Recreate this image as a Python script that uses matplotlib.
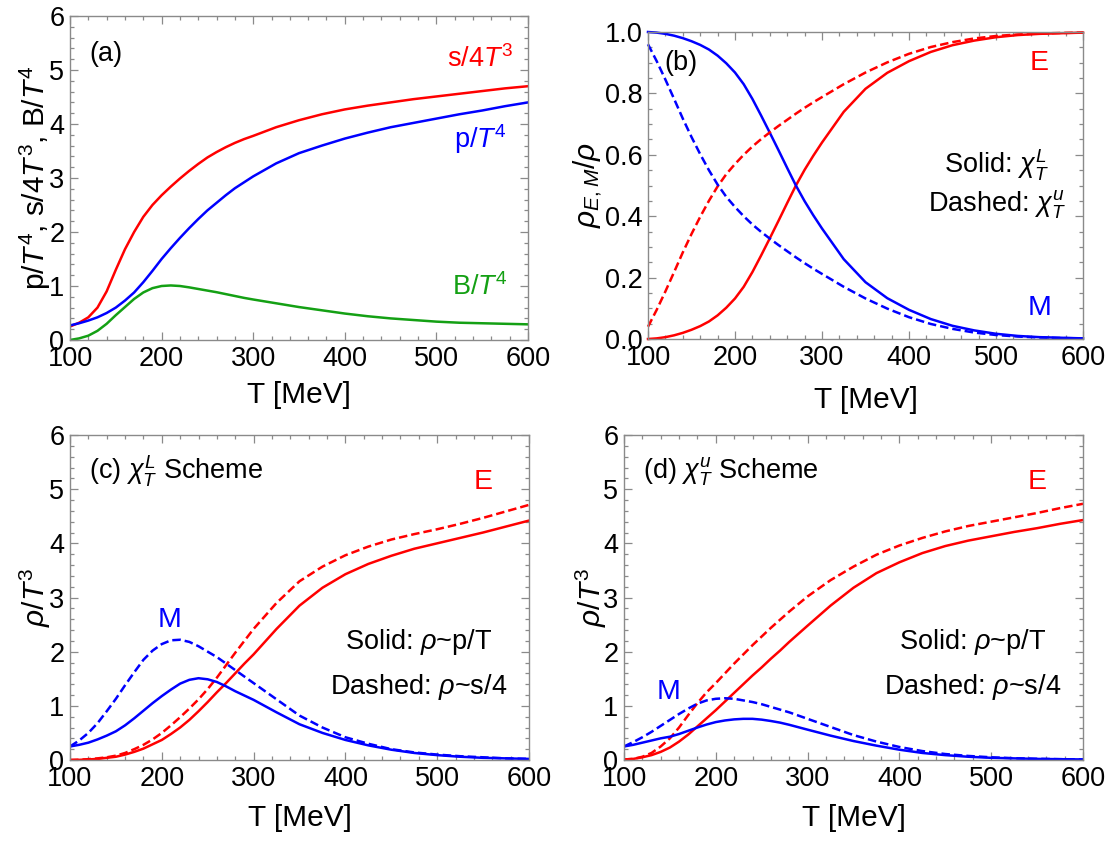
import matplotlib
matplotlib.use("Agg")
import matplotlib.pyplot as plt
from matplotlib.ticker import MultipleLocator, FormatStrFormatter

plt.rcParams['font.family'] = ['Liberation Sans', 'DejaVu Sans']
plt.rcParams['mathtext.fontset'] = 'custom'
plt.rcParams['mathtext.rm'] = 'Liberation Sans'
plt.rcParams['mathtext.it'] = 'Liberation Sans:italic'
plt.rcParams['mathtext.bf'] = 'Liberation Sans:bold'

# ---------------- data ----------------
T = [100, 110, 120, 130, 140, 150, 160, 170, 180, 190, 200, 210, 220, 230, 240, 250,
     260, 270, 280, 290, 300, 325, 350, 375, 400, 425, 450, 475, 500, 525, 550, 575, 600]

# panel (a)
s4T3 = [0.25, 0.32, 0.42, 0.6, 0.9, 1.3, 1.68, 2.0, 2.28, 2.5, 2.68, 2.84, 2.99, 3.13, 3.26, 3.38,
        3.48, 3.57, 3.65, 3.72, 3.78, 3.94, 4.07, 4.18, 4.27, 4.34, 4.4, 4.46, 4.51, 4.56, 4.61, 4.66, 4.7]
pT4 = [0.27, 0.31, 0.36, 0.42, 0.5, 0.6, 0.73, 0.88, 1.07, 1.28, 1.5, 1.7, 1.89, 2.07, 2.24, 2.4,
       2.54, 2.68, 2.81, 2.92, 3.03, 3.27, 3.46, 3.6, 3.73, 3.84, 3.94, 4.02, 4.1, 4.18, 4.25, 4.33, 4.4]
BT4 = [0.0, 0.03, 0.08, 0.17, 0.3, 0.46, 0.61, 0.76, 0.88, 0.96, 1.0, 1.01, 1.0, 0.975, 0.945, 0.915,
       0.885, 0.85, 0.815, 0.78, 0.75, 0.68, 0.61, 0.55, 0.49, 0.44, 0.4, 0.37, 0.34, 0.32, 0.31, 0.3, 0.29]

# panel (b): fractions
fracM_L = [1.0, 0.998, 0.994, 0.988, 0.98, 0.97, 0.958, 0.943, 0.923, 0.898, 0.868, 0.83, 0.782, 0.728,
           0.672, 0.615, 0.557, 0.5, 0.449, 0.403, 0.36, 0.26, 0.185, 0.133, 0.095, 0.065, 0.043,
           0.028, 0.017, 0.01, 0.006, 0.004, 0.002]
fracE_L = [0.0, 0.002, 0.006, 0.012, 0.02, 0.03, 0.042, 0.057, 0.077, 0.102, 0.132, 0.17, 0.218, 0.272,
           0.328, 0.385, 0.443, 0.5, 0.551, 0.597, 0.64, 0.74, 0.815, 0.867, 0.905, 0.935, 0.957,
           0.972, 0.983, 0.99, 0.994, 0.996, 0.998]
fracM_u = [0.96, 0.905, 0.845, 0.782, 0.718, 0.658, 0.602, 0.55, 0.503, 0.463, 0.43, 0.4, 0.373, 0.349,
           0.327, 0.306, 0.286, 0.266, 0.247, 0.229, 0.212, 0.17, 0.132, 0.099, 0.071, 0.049, 0.033,
           0.021, 0.013, 0.008, 0.005, 0.003, 0.002]
fracE_u = [0.04, 0.095, 0.155, 0.218, 0.282, 0.342, 0.398, 0.45, 0.497, 0.537, 0.57, 0.6, 0.627, 0.651,
           0.673, 0.694, 0.714, 0.734, 0.753, 0.771, 0.788, 0.83, 0.868, 0.901, 0.929, 0.951, 0.967,
           0.979, 0.987, 0.992, 0.995, 0.997, 0.998]

# panel (c): chi_T^L scheme
cE_p = [0.0, 0.003, 0.01, 0.02, 0.04, 0.06, 0.1, 0.15, 0.21, 0.29, 0.37, 0.48, 0.6, 0.74, 0.9, 1.07,
        1.25, 1.42, 1.6, 1.78, 1.95, 2.42, 2.85, 3.18, 3.43, 3.62, 3.77, 3.9, 4.0, 4.1, 4.2, 4.31, 4.42]
cE_s = [0.0, 0.005, 0.015, 0.03, 0.05, 0.08, 0.13, 0.2, 0.28, 0.38, 0.5, 0.64, 0.79, 0.95, 1.12, 1.31,
        1.52, 1.75, 1.98, 2.2, 2.42, 2.9, 3.3, 3.57, 3.78, 3.94, 4.07, 4.17, 4.26, 4.36, 4.47, 4.59, 4.71]
cM_p = [0.25, 0.28, 0.32, 0.38, 0.45, 0.53, 0.64, 0.77, 0.91, 1.05, 1.18, 1.3, 1.41, 1.48, 1.51, 1.49,
        1.44, 1.36, 1.27, 1.19, 1.11, 0.88, 0.66, 0.5, 0.37, 0.27, 0.19, 0.13, 0.09, 0.06, 0.04, 0.03, 0.02]
cM_s = [0.25, 0.36, 0.5, 0.68, 0.9, 1.13, 1.38, 1.62, 1.85, 2.02, 2.14, 2.21, 2.22, 2.18, 2.1, 2.0,
        1.9, 1.78, 1.66, 1.54, 1.42, 1.12, 0.82, 0.6, 0.42, 0.3, 0.2, 0.14, 0.1, 0.07, 0.05, 0.03, 0.02]

# panel (d): chi_T^u scheme
dE_p = [0.01, 0.02, 0.05, 0.09, 0.15, 0.23, 0.34, 0.47, 0.62, 0.77, 0.92, 1.08, 1.24, 1.4, 1.56, 1.71,
        1.87, 2.02, 2.18, 2.33, 2.48, 2.85, 3.18, 3.45, 3.65, 3.82, 3.95, 4.05, 4.13, 4.21, 4.28, 4.36, 4.43]
dE_s = [0.01, 0.02, 0.06, 0.13, 0.25, 0.4, 0.6, 0.83, 1.05, 1.25, 1.42, 1.6, 1.78, 1.95, 2.12, 2.28,
        2.44, 2.59, 2.74, 2.88, 3.02, 3.32, 3.57, 3.79, 3.96, 4.1, 4.22, 4.32, 4.4, 4.48, 4.56, 4.65, 4.73]
dM_p = [0.25, 0.28, 0.32, 0.36, 0.4, 0.43, 0.48, 0.54, 0.6, 0.655, 0.7, 0.73, 0.75, 0.76, 0.76, 0.745,
        0.72, 0.69, 0.65, 0.605, 0.56, 0.45, 0.35, 0.265, 0.19, 0.13, 0.09, 0.06, 0.04, 0.03, 0.02, 0.015, 0.01]
dM_s = [0.25, 0.33, 0.42, 0.52, 0.63, 0.74, 0.85, 0.95, 1.04, 1.1, 1.13, 1.14, 1.13, 1.1, 1.07, 1.03,
        0.98, 0.93, 0.88, 0.82, 0.76, 0.61, 0.46, 0.34, 0.24, 0.165, 0.11, 0.075, 0.05, 0.033, 0.022, 0.015, 0.01]

# ---------------- style ----------------
RED = '#ff0000'
BLUE = '#0000ff'
GREEN = '#14a014'
FRAME = '#8a8a8a'
LW = 1.8
DASH = (0, (3.4, 1.6))
TICKFS = 19.5
LABFS = 21.5
TXTFS = 19.5

fig = plt.figure(figsize=(11.13, 8.41), dpi=100)
W, H = 1113.0, 841.0


def make_axes(l, t, r, b):
    return fig.add_axes([l / W, 1 - b / H, (r - l) / W, (b - t) / H])


def style(ax, ymax, ymajor, yminor, yfmt):
    ax.set_xlim(100, 600)
    ax.set_ylim(0, ymax)
    ax.xaxis.set_major_locator(MultipleLocator(100))
    ax.xaxis.set_minor_locator(MultipleLocator(20))
    ax.yaxis.set_major_locator(MultipleLocator(ymajor))
    ax.yaxis.set_minor_locator(MultipleLocator(yminor))
    ax.yaxis.set_major_formatter(FormatStrFormatter(yfmt))
    for sp in ax.spines.values():
        sp.set_color(FRAME)
        sp.set_linewidth(1.0)
    ax.tick_params(which='both', direction='in', top=True, right=True,
                   color=FRAME, width=0.9, labelsize=TICKFS, labelcolor='black')
    ax.tick_params(which='major', length=5.5, pad=4)
    ax.tick_params(which='minor', length=3)


# (a)
axa = make_axes(70, 16, 528, 340)
axa.plot(T, s4T3, color=RED, lw=LW)
axa.plot(T, pT4, color=BLUE, lw=LW)
axa.plot(T, BT4, color=GREEN, lw=LW)
style(axa, 6, 1, 0.2, '%d')
axa.text(139, 5.3, '(a)', fontsize=TXTFS, ha='center', va='center')
axa.text(584, 5.2, r's/4$T^3$', color=RED, fontsize=TXTFS, ha='right', va='center')
axa.text(577, 3.72, r'p/$T^4$', color=BLUE, fontsize=TXTFS, ha='right', va='center')
axa.text(578, 0.98, r'B/$T^4$', color=GREEN, fontsize=TXTFS, ha='right', va='center')
axa.set_ylabel(r'p/$T^4$, s/4$T^3$, B/$T^4$', fontsize=LABFS, va='center')
axa.yaxis.set_label_coords(-0.075, 0.5)
axa.set_xlabel('T [MeV]', fontsize=LABFS, va='center')
axa.xaxis.set_label_coords(0.5, -0.17)

# (b)
axb = make_axes(648, 32, 1083, 339)
axb.plot(T, fracE_L, color=RED, lw=LW, clip_on=False)
axb.plot(T, fracM_L, color=BLUE, lw=LW, clip_on=False)
axb.plot(T, fracE_u, color=RED, lw=LW, ls=DASH, clip_on=False)
axb.plot(T, fracM_u, color=BLUE, lw=LW, ls=DASH, clip_on=False)
style(axb, 1.0, 0.2, 0.05, '%.1f')
axb.text(138, 0.9, '(b)', fontsize=TXTFS, ha='center', va='center')
axb.text(550, 0.9, 'E', color=RED, fontsize=TXTFS + 1, ha='center', va='center')
axb.text(550, 0.1, 'M', color=BLUE, fontsize=TXTFS + 1, ha='center', va='center')
axb.text(501, 0.567, r'Solid: $\chi_T^L$', fontsize=TXTFS, ha='center', va='center')
axb.text(501, 0.436, r'Dashed: $\chi_T^u$', fontsize=TXTFS, ha='center', va='center')
axb.set_ylabel(r'$\rho_{E,M}/\rho$', fontsize=LABFS, va='center')
axb.yaxis.set_label_coords(-0.14, 0.5)
axb.set_xlabel('T [MeV]', fontsize=LABFS, va='center')
axb.xaxis.set_label_coords(0.5, -0.2)

# (c) and (d)
panels = [
    (make_axes(70, 435, 529, 760), cE_p, cE_s, cM_p, cM_s,
     r'(c) $\chi_T^L$ Scheme', (209, 2.58), -0.076),
    (make_axes(624, 435, 1083, 760), dE_p, dE_s, dM_p, dM_s,
     r'(d) $\chi_T^u$ Scheme', (149, 1.26), -0.072),
]
for ax, Ep, Es, Mp, Ms, title, mpos, ylx in panels:
    ax.plot(T, Ep, color=RED, lw=LW)
    ax.plot(T, Es, color=RED, lw=LW, ls=DASH)
    ax.plot(T, Mp, color=BLUE, lw=LW)
    ax.plot(T, Ms, color=BLUE, lw=LW, ls=DASH)
    style(ax, 6, 1, 0.2, '%d')
    ax.text(121, 5.33, title, fontsize=TXTFS, ha='left', va='center')
    ax.text(550, 5.13, 'E', color=RED, fontsize=TXTFS + 1, ha='center', va='center')
    ax.text(mpos[0], mpos[1], 'M', color=BLUE, fontsize=TXTFS + 1, ha='center', va='center')
    ax.text(480, 2.18, r'Solid: $\rho$~p/T', fontsize=TXTFS, ha='center', va='center')
    ax.text(480, 1.35, r'Dashed: $\rho$~s/4', fontsize=TXTFS, ha='center', va='center')
    ax.set_ylabel(r'$\rho/T^3$', fontsize=LABFS, va='center')
    ax.yaxis.set_label_coords(ylx, 0.5)
    ax.set_xlabel('T [MeV]', fontsize=LABFS, va='center')
    ax.xaxis.set_label_coords(0.5, -0.178)

fig.savefig('out.png', dpi=100)
